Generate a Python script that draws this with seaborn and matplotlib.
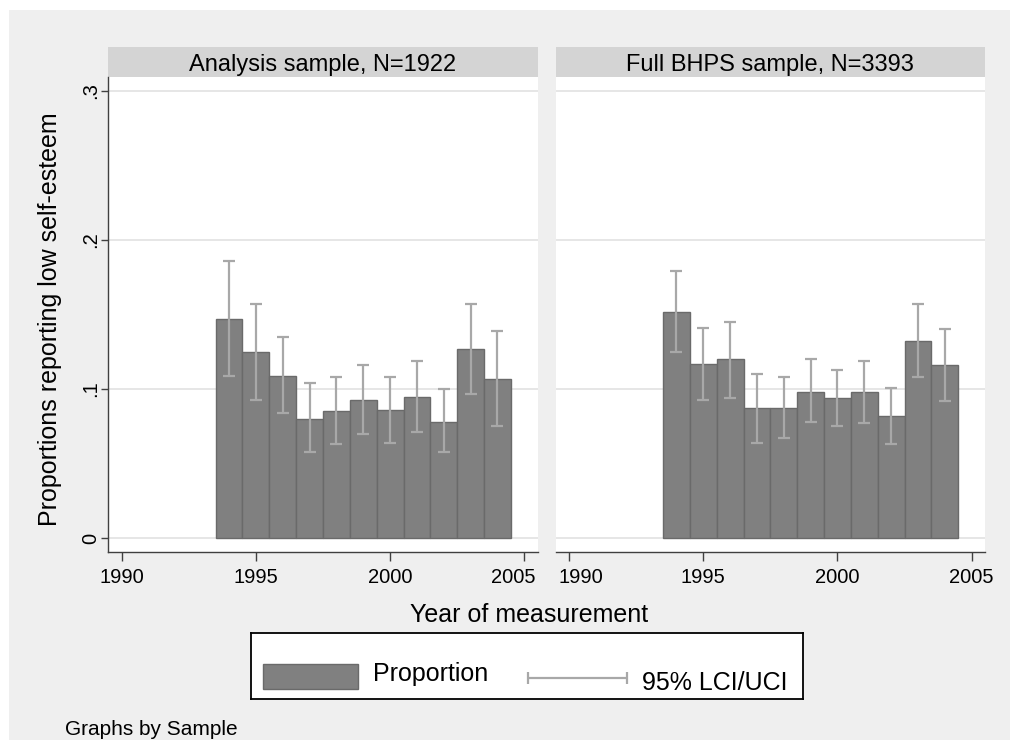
import matplotlib
matplotlib.use("Agg")
import matplotlib.pyplot as plt
import seaborn as sns
import numpy as np
from matplotlib.patches import Rectangle
from matplotlib.transforms import ScaledTranslation

# ---------------- data ----------------
years = [1994, 1995, 1996, 1997, 1998, 1999, 2000, 2001, 2002, 2003, 2004]

panel_titles = ["Analysis sample, N=1922", "Full BHPS sample, N=3393"]

analysis_prop = [0.147, 0.125, 0.109, 0.080, 0.085, 0.093, 0.086, 0.095, 0.078, 0.127, 0.107]
analysis_lci = [0.109, 0.093, 0.084, 0.058, 0.063, 0.070, 0.064, 0.071, 0.058, 0.097, 0.075]
analysis_uci = [0.186, 0.157, 0.135, 0.104, 0.108, 0.116, 0.108, 0.119, 0.100, 0.157, 0.139]

full_prop = [0.152, 0.117, 0.120, 0.087, 0.087, 0.098, 0.094, 0.098, 0.082, 0.132, 0.116]
full_lci = [0.125, 0.093, 0.094, 0.064, 0.067, 0.078, 0.075, 0.077, 0.063, 0.108, 0.092]
full_uci = [0.179, 0.141, 0.145, 0.110, 0.108, 0.120, 0.113, 0.119, 0.101, 0.157, 0.140]

y_ticks = [0, 0.1, 0.2, 0.3]
y_ticklabels = ["0", ".1", ".2", ".3"]
x_ticks = [1990, 1995, 2000, 2005]
x_ticklabels = ["1990", "1995", "2000", "2005"]

# ---------------- style ----------------
sns.set_theme(style="white")
plt.rcParams["font.family"] = ["Liberation Sans", "DejaVu Sans"]

BG = "#efefef"
STRIP = "#d4d4d4"
BAR = "#808080"
BAR_EDGE = "#6a6a6a"
CI = "#a8a8a8"
AXIS = "#404040"
GRID = "#e2e2e2"

W, H = 1010, 740
fig = plt.figure(figsize=(W / 100, H / 100), dpi=100, facecolor="white")


def fx(px):
    return px / W


def fy(py):
    return 1 - py / H


fig.add_artist(Rectangle((fx(9), 0), 1 - fx(9), fy(10), transform=fig.transFigure,
                         facecolor=BG, edgecolor="none", zorder=-10))

ax_top, ax_bot = 77.3, 551.7
ax_h_px = ax_bot - ax_top
axL = fig.add_axes([fx(108.3), fy(ax_bot), (537.7 - 108.3) / W, ax_h_px / H])
axR = fig.add_axes([fx(555.7), fy(ax_bot), (985.0 - 555.7) / W, ax_h_px / H])

panels = [
    (axL, analysis_prop, analysis_lci, analysis_uci, panel_titles[0]),
    (axR, full_prop, full_lci, full_uci, panel_titles[1]),
]

for i, (ax, prop, lci, uci, title) in enumerate(panels):
    ax.set_facecolor("white")
    sns.barplot(x=years, y=prop, native_scale=True, width=1, orient="x",
                color=BAR, saturation=1, edgecolor=BAR_EDGE, linewidth=1,
                errorbar=None, ax=ax, zorder=2)
    p = np.array(prop)
    lo = np.array(lci)
    hi = np.array(uci)
    ax.errorbar(years, p, yerr=[p - lo, hi - p], fmt="none", ecolor=CI,
                elinewidth=1.6, capsize=4, capthick=1.6, zorder=3)

    ax.set_xlim(1989.5, 2005.5)
    ax.set_ylim(-0.009, 0.309)
    ax.set_xlabel("")
    ax.set_ylabel("")
    ax.set_axisbelow(True)
    ax.yaxis.grid(True, color=GRID, lw=1.2)
    ax.xaxis.grid(False)
    ax.set_yticks(y_ticks)
    ax.set_xticks(x_ticks)
    ax.set_xticklabels(x_ticklabels)

    for s in ["top", "right"]:
        ax.spines[s].set_visible(False)
    ax.spines["bottom"].set_color(AXIS)
    ax.spines["bottom"].set_linewidth(1)
    ax.tick_params(axis="x", bottom=True, direction="out", length=6.5, width=1,
                   color=AXIS, labelsize=14.5, pad=5, labelcolor="black")
    if i == 0:
        ax.spines["left"].set_color(AXIS)
        ax.spines["left"].set_linewidth(1)
        ax.set_yticklabels(y_ticklabels, rotation=90, va="center")
        ax.tick_params(axis="y", left=True, direction="out", length=5.4, width=1,
                       color=AXIS, labelsize=14.5, pad=0.5, labelcolor="black")
    else:
        ax.spines["left"].set_visible(False)
        ax.tick_params(axis="y", left=False, labelleft=False)

    # nudge the two labels that meet between the panels
    for lab in ax.get_xticklabels():
        if i == 0 and lab.get_text() == "2005":
            lab.set_transform(lab.get_transform() + ScaledTranslation(-11 / 100, 0, fig.dpi_scale_trans))
        if i == 1 and lab.get_text() == "1990":
            lab.set_transform(lab.get_transform() + ScaledTranslation(12 / 100, 0, fig.dpi_scale_trans))

    # facet strip
    strip_h = (77.3 - 46.7) / ax_h_px
    ax.add_patch(Rectangle((0, 1), 1, strip_h, transform=ax.transAxes,
                           facecolor=STRIP, edgecolor="none", clip_on=False))
    ax.text(0.5, 1 + (ax_top - 70.7) / ax_h_px, title, transform=ax.transAxes,
            ha="center", va="baseline", fontsize=17, color="black")

# axis titles
fig.text(fx(50.5), fy(319), "Proportions reporting low self-esteem", rotation=90,
         ha="center", va="center", fontsize=18, color="black")
fig.text(fx(529), fy(622.3), "Year of measurement", ha="center", va="baseline",
         fontsize=18, color="black")

# legend box
lx0, lx1, ly0, ly1 = 251, 803.3, 633.3, 699
axLg = fig.add_axes([fx(lx0), fy(ly1), (lx1 - lx0) / W, (ly1 - ly0) / H])
axLg.set_xlim(lx0, lx1)
axLg.set_ylim(ly1, ly0)
axLg.set_facecolor("white")
axLg.set_xticks([])
axLg.set_yticks([])
for s in axLg.spines.values():
    s.set_visible(True)
    s.set_color("black")
    s.set_linewidth(1.3)
axLg.add_patch(Rectangle((262.7, 664), 95.6, 25.3, facecolor=BAR, edgecolor=BAR_EDGE, lw=1))
axLg.text(372.7, 681, "Proportion", va="baseline", ha="left", fontsize=18, color="black")
axLg.errorbar([577.5], [677.7], xerr=[[49.2], [49.2]], fmt="none", ecolor=CI,
              elinewidth=1.6, capsize=4, capthick=1.6)
axLg.text(641.7, 690, "95% LCI/UCI", va="baseline", ha="left", fontsize=18, color="black")

fig.text(fx(65), fy(735), "Graphs by Sample", ha="left", va="baseline", fontsize=15, color="black")

fig.savefig("out.png", dpi=100, facecolor=fig.get_facecolor())
